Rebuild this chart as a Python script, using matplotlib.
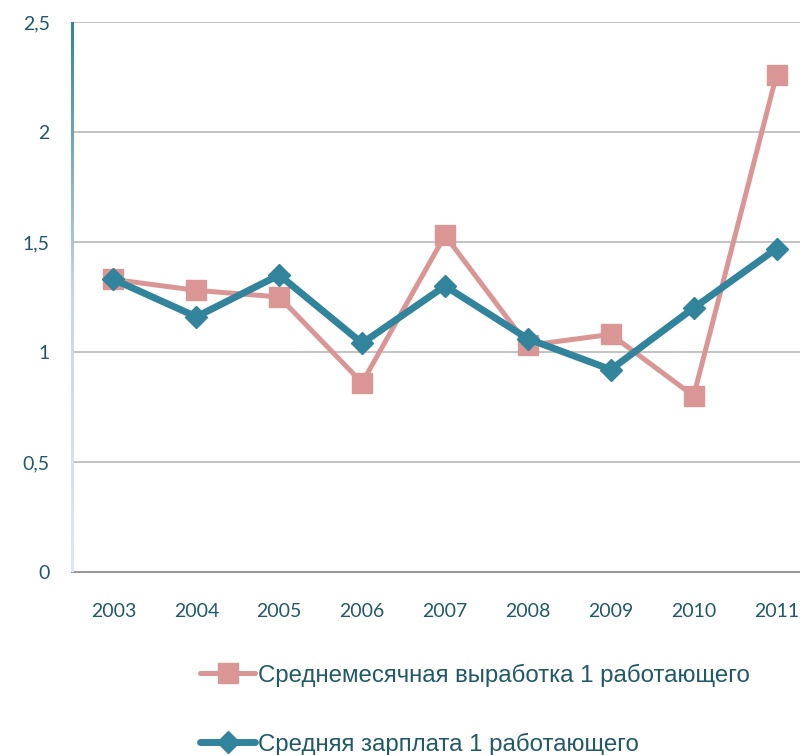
import matplotlib.pyplot as plt
import numpy as np

years = ["2003", "2004", "2005", "2006", "2007", "2008", "2009", "2010", "2011"]
output_per_worker = [1.33, 1.28, 1.25, 0.86, 1.53, 1.03, 1.08, 0.80, 2.26]
salary_per_worker = [1.33, 1.16, 1.35, 1.04, 1.30, 1.06, 0.92, 1.20, 1.47]
label_output = "Среднемесячная выработка 1 работающего"
label_salary = "Средняя зарплата 1 работающего"
yticks = [0, 0.5, 1, 1.5, 2, 2.5]
ytick_labels = ["0", "0,5", "1", "1,5", "2", "2,5"]

pink = "#DA9694"
teal = "#31849B"
text_col = "#215968"

fig = plt.figure(figsize=(8, 7.55), dpi=100)
ax = fig.add_axes([0.09, 0.2424, 0.9325, 0.7285])

x = np.arange(len(years))
ax.plot(x, output_per_worker, color=pink, lw=3.6, marker="s", ms=14,
        solid_capstyle="round", label=label_output, zorder=3)
ax.plot(x, salary_per_worker, color=teal, lw=5, marker="D", ms=11,
        solid_capstyle="round", label=label_salary, zorder=4)

ax.set_xlim(-0.5, len(years) - 0.5)
ax.set_ylim(0, 2.5)
ax.set_yticks(yticks)
ax.set_yticklabels(ytick_labels)
ax.set_xticks(x)
ax.set_xticklabels(years)
ax.yaxis.grid(True, color="#BEBEBE", lw=1.3)
ax.set_axisbelow(True)
ax.tick_params(length=0, labelsize=14, labelcolor=text_col)
ax.tick_params(axis="y", pad=16)
ax.tick_params(axis="x", pad=22)
for lbl in ax.get_xticklabels() + ax.get_yticklabels():
    lbl.set_family("Lato")

for s in ["top", "right", "left"]:
    ax.spines[s].set_visible(False)
ax.spines["bottom"].set_color("#999999")
ax.spines["bottom"].set_linewidth(1.5)

# left axis line: thin strip with a teal -> pale blue gradient
top = np.array([0.19, 0.52, 0.61])
mid = np.array([0.78, 0.84, 0.94])
bot = np.array([0.87, 0.91, 0.97])
t = np.linspace(0, 1, 200)[:, None]
grad = np.where(t < 0.5, top + (mid - top) * (t / 0.5),
                mid + (bot - mid) * ((t - 0.5) / 0.5))
strip = fig.add_axes([70.5 / 800, 0.2424, 3 / 800, 0.7285])
strip.imshow(grad[:, None, :], aspect="auto", interpolation="bilinear")
strip.axis("off")

fig.legend(loc="upper left", bbox_to_anchor=(0.25, 0.121), frameon=False,
           prop={"family": "Liberation Sans", "size": 17.3}, labelcolor=text_col,
           handlelength=2.3, handletextpad=0.1, labelspacing=1.9, borderpad=0,
           borderaxespad=0)

fig.savefig("out.png", dpi=100)
